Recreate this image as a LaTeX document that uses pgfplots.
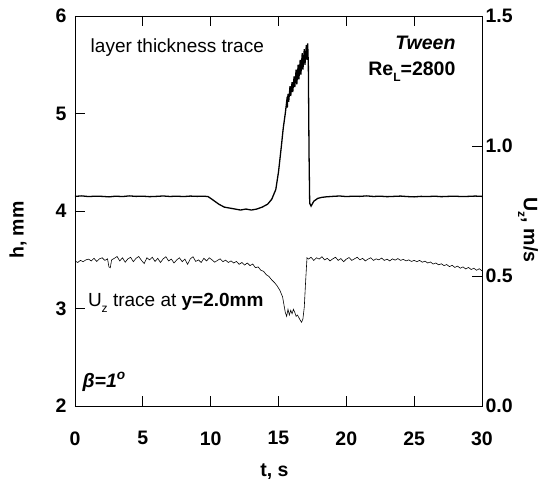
\documentclass[border=0pt]{standalone}
\usepackage{fontspec}
\setmainfont{Liberation Sans}
\usepackage{pgfplots}
\pgfplotsset{compat=1.18}
\newcommand\sub[1]{\raisebox{-0.55ex}{\fontsize{12bp}{13bp}\selectfont #1}}
\begin{document}
\begin{tikzpicture}
\begin{axis}[name=ax, at={(0,0)}, anchor=south west,
  scale only axis, width=407bp, height=390bp,
  xmin=0, xmax=30, ymin=2, ymax=6,
  xtick={0,5,...,30}, ytick={2,3,4,5,6},
  xtick pos=both, ytick pos=left, tick align=inside,
  major tick length=10bp,
  axis line style={line width=0.9pt},
  tick style={line width=0.8pt, black},
  /pgf/number format/assume math mode=true,
  ticklabel style={font=\fontsize{19.5bp}{22bp}\selectfont\bfseries},
  xticklabel style={yshift=-22bp},
  yticklabel style={xshift=-5bp},
  xlabel={t, s}, ylabel={h, mm},
  label style={font=\fontsize{19.5bp}{22bp}\selectfont\bfseries},
  xlabel style={at={(axis description cs:0.49,-0.169)}, anchor=center},
  ylabel style={at={(axis description cs:-0.14,0.451)}, anchor=center},
  clip=false,
]
\addplot[black, line width=1.3pt] coordinates {
(0,4.150)(0.5,4.155)(1,4.148)(1.5,4.152)(2,4.150)(2.5,4.145)(3,4.152)(3.5,4.148)
(4,4.155)(4.5,4.150)(5,4.152)(5.5,4.147)(6,4.150)(6.5,4.154)(7,4.149)(7.5,4.152)
(8,4.148)(8.5,4.153)(9,4.150)(9.5,4.152)(9.8,4.148)(10,4.13)(10.3,4.10)(10.6,4.07)
(11,4.04)(11.4,4.03)(11.8,4.02)(12.2,4.01)(12.6,4.02)(13,4.01)(13.4,4.02)(13.8,4.04)
(14.2,4.07)(14.5,4.12)(14.8,4.22)(15.0,4.40)(15.2,4.65)(15.35,4.85)(15.5,5.00)
(15.6,5.12)(15.65,5.06)(15.7,5.20)(15.75,5.12)(15.85,5.28)(15.9,5.18)(16.0,5.32)
(16.05,5.22)(16.15,5.38)(16.2,5.27)(16.3,5.45)(16.35,5.30)(16.45,5.50)(16.5,5.35)
(16.6,5.55)(16.65,5.40)(16.75,5.62)(16.8,5.45)(16.9,5.66)(16.95,5.50)(17.05,5.70)
(17.1,5.55)(17.15,5.72)(17.2,5.50)(17.25,4.60)(17.3,4.08)(17.4,4.05)(17.6,4.10)
(17.9,4.13)(18.2,4.14)(18.5,4.145)(19,4.150)(19.5,4.154)(20,4.148)(20.5,4.152)
(21,4.150)(21.5,4.155)(22,4.149)(22.5,4.152)(23,4.147)(23.5,4.150)(24,4.153)
(24.5,4.148)(25,4.145)(25.5,4.150)(26,4.148)(26.5,4.152)(27,4.147)(27.5,4.150)
(28,4.152)(28.5,4.148)(29,4.150)(29.5,4.153)(30,4.150)
};
\node[anchor=west, font=\fontsize{19bp}{22bp}\selectfont] at (axis cs:0.9,5.68) {layer thickness trace};
\node[anchor=west, font=\fontsize{19bp}{22bp}\selectfont] at (axis cs:0.7,3.06) {U\sub{z} trace at \textbf{y=2.0mm}};
\node[anchor=east, font=\fontsize{19.5bp}{22bp}\selectfont\bfseries\itshape] at (axis cs:28.3,5.72) {Tween};
\node[anchor=east, font=\fontsize{19.5bp}{22bp}\selectfont\bfseries] at (axis cs:28.3,5.43) {Re\sub{L}=2800};
\node[anchor=west, font=\fontsize{19.5bp}{22bp}\selectfont\bfseries\itshape] at (axis cs:0.3,2.25) {β=1\textsuperscript{o}};
\end{axis}
\begin{axis}[at={(0,0)}, anchor=south west,
  scale only axis, width=407bp, height=390bp,
  xmin=0, xmax=30, ymin=0, ymax=1.5,
  axis x line=none, axis y line*=right,
  ytick={0,0.5,1.0,1.5}, tick align=inside,
  major tick length=10bp,
  axis line style={line width=0.9pt, -},
  tick style={line width=0.8pt, black},
  /pgf/number format/assume math mode=true,
  yticklabel={\pgfmathprintnumber[fixed,fixed zerofill,precision=1]{\tick}},
  ticklabel style={font=\fontsize{19.5bp}{22bp}\selectfont\bfseries},
  yticklabel style={xshift=0bp},
  ylabel={U\sub{z}, m/s},
  ylabel style={font=\fontsize{19.5bp}{22bp}\selectfont\bfseries, rotate=180,
    at={(axis description cs:1.113,0.451)}, anchor=center},
]
\addplot[black, line width=0.6pt] coordinates {
(0.0,0.558)(0.2,0.552)(0.4,0.560)(0.6,0.555)(0.8,0.562)(1.0,0.565)(1.2,0.558)
(1.4,0.568)(1.6,0.556)(1.8,0.566)(2.0,0.570)(2.2,0.560)(2.4,0.566)(2.5,0.535)
(2.6,0.532)(2.7,0.562)(2.9,0.568)(3.1,0.575)(3.3,0.558)(3.5,0.570)(3.7,0.553)
(3.9,0.566)(4.1,0.572)(4.3,0.555)(4.5,0.568)(4.7,0.575)(4.9,0.560)(5.1,0.548)
(5.3,0.570)(5.5,0.562)(5.7,0.572)(5.9,0.556)(6.1,0.568)(6.3,0.552)(6.5,0.566)
(6.7,0.574)(6.9,0.558)(7.1,0.565)(7.3,0.550)(7.5,0.562)(7.7,0.570)(7.9,0.555)
(8.1,0.565)(8.3,0.545)(8.5,0.566)(8.7,0.574)(8.9,0.556)(9.1,0.562)(9.3,0.552)
(9.5,0.568)(9.7,0.558)(9.9,0.570)(10.1,0.562)(10.3,0.553)(10.5,0.560)(10.7,0.566)
(10.9,0.555)(11.1,0.561)(11.3,0.552)(11.5,0.558)(11.7,0.550)(11.9,0.556)(12.1,0.545)
(12.3,0.552)(12.5,0.542)(12.7,0.550)(12.9,0.540)(13.1,0.546)(13.3,0.532)(13.5,0.535)
(13.7,0.522)(13.9,0.518)(14.1,0.505)(14.3,0.498)(14.5,0.485)(14.7,0.475)(14.9,0.462)
(15.1,0.445)(15.3,0.420)(15.4,0.390)(15.5,0.360)(15.6,0.345)(15.7,0.372)(15.8,0.350)
(15.9,0.368)(16.0,0.355)(16.1,0.372)(16.2,0.360)(16.3,0.345)(16.4,0.350)(16.5,0.340)
(16.6,0.330)(16.7,0.322)(16.8,0.335)(16.9,0.380)(17.0,0.480)(17.1,0.570)(17.2,0.565)
(17.4,0.572)(17.6,0.560)(17.8,0.570)(18.0,0.565)(18.2,0.574)(18.4,0.562)(18.6,0.568)
(18.8,0.558)(19.0,0.566)(19.2,0.572)(19.4,0.560)(19.6,0.567)(19.8,0.555)(20.0,0.565)
(20.2,0.571)(20.4,0.560)(20.6,0.566)(20.8,0.572)(21.0,0.562)(21.2,0.568)(21.4,0.558)
(21.6,0.565)(21.8,0.570)(22.0,0.560)(22.2,0.566)(22.4,0.562)(22.6,0.569)(22.8,0.560)
(23.0,0.565)(23.2,0.558)(23.4,0.566)(23.6,0.561)(23.8,0.567)(24.0,0.560)(24.2,0.564)
(24.4,0.558)(24.6,0.562)(24.8,0.556)(25.0,0.560)(25.2,0.555)(25.4,0.560)(25.6,0.553)
(25.8,0.557)(26.0,0.550)(26.2,0.554)(26.4,0.546)(26.6,0.550)(26.8,0.543)(27.0,0.547)
(27.2,0.540)(27.4,0.544)(27.6,0.536)(27.8,0.541)(28.0,0.533)(28.2,0.538)(28.4,0.530)
(28.6,0.535)(28.8,0.527)(29.0,0.533)(29.2,0.525)(29.4,0.530)(29.6,0.522)(29.8,0.528)
(30.0,0.520)
};
\end{axis}
\pgfresetboundingbox
\path (-75bp,-85bp) rectangle (472bp,406bp);
\end{tikzpicture}
\end{document}
